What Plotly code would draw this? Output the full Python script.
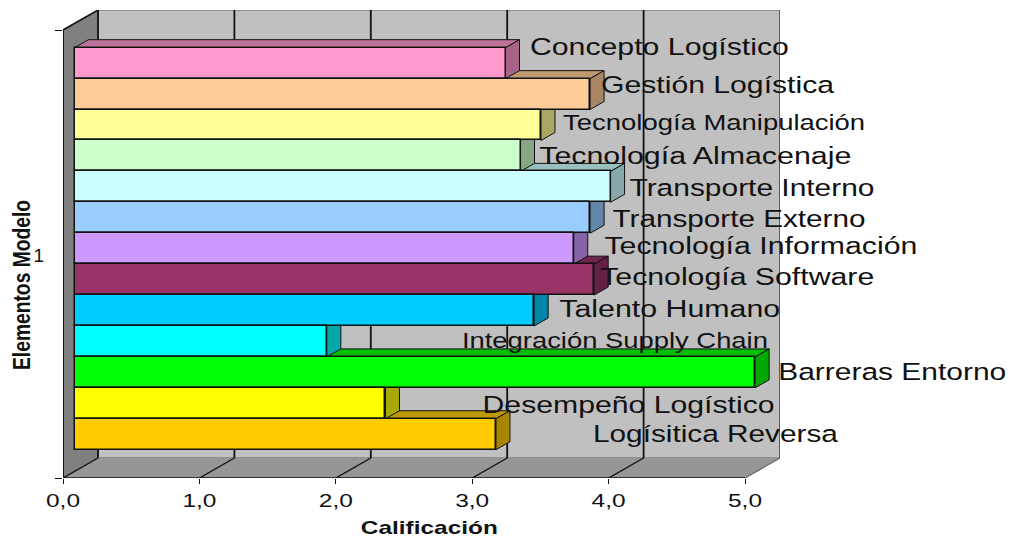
import json
import plotly.graph_objects as go

# --- data ---
categories = ["Concepto Logístico", "Gestión Logística", "Tecnología Manipulación",
              "Tecnología Almacenaje", "Transporte Interno", "Transporte Externo",
              "Tecnología Información", "Tecnología Software", "Talento Humano",
              "Integración Supply Chain", "Barreras Entorno", "Desempeño Logístico",
              "Logísitica Reversa"]
values = [3.16, 3.78, 3.42, 3.27, 3.93, 3.78, 3.66, 3.81, 3.37, 1.85, 4.99, 2.28, 3.09]
front_colors = ["#FF99CC", "#FFCC99", "#FFFF99", "#CCFFCC", "#CCFFFF", "#99CCFF", "#CC99FF",
                "#993366", "#00CCFF", "#00FFFF", "#00FF00", "#FFFF00", "#FFCC00"]
x_ticks = [0, 1, 2, 3, 4, 5]
x_tick_labels = ["0,0", "1,0", "2,0", "3,0", "4,0", "5,0"]
x_title = "Calificación"
y_title = "Elementos Modelo"

# --- layout constants (pixels in the 1010x539 page) ---
PX_LEFT, PX_RIGHT, PX_TOP, PX_BOTTOM = 63, 780, 10, 478
PX_PER_UNIT = 136.4
PX_BARS_TOP, PX_PER_SLOT = 47.7, 30.92
WALL_DX, WALL_DY = 35, 20
BAR_X0, BAR_DX, BAR_DY = 74.5, 14, 8
# left, right, vertical centre, font size of each bar label
label_boxes = [(530, 789, 47, 23.7), (601, 834, 85, 23.7), (563, 865, 122, 22), (539, 851, 156, 23),
               (629, 874, 188, 23.7), (612, 865, 219, 23), (604, 917, 246, 23), (600, 874, 277, 23),
               (559, 780, 309, 23), (462, 768, 341, 22), (778, 1006, 372, 23.7), (482, 774, 405, 23.7),
               (593, 838, 434, 23.7)]
FONT = "Liberation Sans"
INK = "#111111"


def X(px):
    return (px - PX_LEFT) / PX_PER_UNIT


def Y(py):
    return (py - PX_BARS_TOP) / PX_PER_SLOT


def PAPER_X(px):
    return (px - PX_LEFT) / (PX_RIGHT - PX_LEFT)


def PAPER_Y(py):
    return (PX_BOTTOM - py) / (PX_BOTTOM - PX_TOP)


def shade(hex_color, k):
    r, g, b = (int(hex_color[i:i + 2], 16) for i in (1, 3, 5))
    return f"rgb({int(r * k)},{int(g * k)},{int(b * k)})"


x_range = [0, X(PX_RIGHT)]
y_range = [Y(PX_BOTTOM), Y(PX_TOP)]
dx, dy = BAR_DX / PX_PER_UNIT, BAR_DY / PX_PER_SLOT
base = X(BAR_X0)

fig = go.Figure()


def poly(points, fill, color="rgba(0,0,0,0)", width=0):
    path = "M " + " L ".join(f"{X(a)},{Y(b)}" for a, b in points) + " Z"
    fig.add_shape(type="path", path=path, xref="x", yref="y", fillcolor=fill, layer="below",
                  line=dict(color=color, width=width))


def seg(a, b, color=INK, width=1.6):
    fig.add_shape(type="line", x0=X(a[0]), y0=Y(a[1]), x1=X(b[0]), y1=Y(b[1]), xref="x", yref="y",
                  layer="below", line=dict(color=color, width=width))


# walls and floor
back_l, back_r = PX_LEFT + WALL_DX, PX_RIGHT
floor_back = PX_BOTTOM - WALL_DY
poly([(back_l, PX_TOP), (back_r, PX_TOP), (back_r, floor_back), (back_l, floor_back)], "#C0C0C0",
     "#808080", 1.5)
poly([(PX_LEFT, PX_BOTTOM), (back_r - WALL_DX, PX_BOTTOM), (back_r, floor_back), (back_l, floor_back)], "#969696")
poly([(PX_LEFT, PX_TOP + WALL_DY), (back_l, PX_TOP), (back_l, floor_back), (PX_LEFT, PX_BOTTOM)], "#808080")

# grid lines over wall and floor
for t in x_ticks:
    fx = PX_LEFT + t * PX_PER_UNIT
    col = INK if t < 5 else "#707070"
    seg((fx, PX_BOTTOM), (fx + WALL_DX, floor_back), col, 1.4)
    seg((fx + WALL_DX, floor_back), (fx + WALL_DX, PX_TOP), col if t < 5 else "#555555", 1.8)
seg((PX_LEFT, PX_BOTTOM), (PX_LEFT + 5 * PX_PER_UNIT, PX_BOTTOM), INK, 1.4)
seg((PX_LEFT, PX_TOP + WALL_DY), (PX_LEFT, PX_BOTTOM), INK, 2)
seg((PX_LEFT, PX_TOP + WALL_DY), (back_l, PX_TOP), INK, 1.6)

# top and side faces of the bars, lowest first
n = len(values)
for i in range(n - 1, -1, -1):
    v1 = base + values[i]
    fig.add_trace(go.Scatter(x=[base, v1, v1 + dx, base + dx, base], y=[i, i, i - dy, i - dy, i], mode="lines",
                             fill="toself", fillcolor=shade(front_colors[i], 0.75), line=dict(color=INK, width=1),
                             showlegend=False, hoverinfo="skip"))
    fig.add_trace(go.Scatter(x=[v1, v1 + dx, v1 + dx, v1, v1], y=[i, i - dy, i + 1 - dy, i + 1, i], mode="lines",
                             fill="toself", fillcolor=shade(front_colors[i], 0.66), line=dict(color=INK, width=1),
                             showlegend=False, hoverinfo="skip"))

# front faces, on an overlaying axis pair so they cover faces of the bars below
fig.add_trace(go.Bar(orientation="h", x=values, y=[i + 0.5 for i in range(n)], base=base, width=1,
                     marker=dict(color=front_colors, line=dict(color=INK, width=1.5)),
                     xaxis="x2", yaxis="y2", showlegend=False, hovertext=categories, hoverinfo="text+x"))

text_widths = {}
for name, (left, right, cy, size) in zip(categories, label_boxes):
    text_widths[name] = right - left
    fig.add_annotation(x=PAPER_X((left + right) / 2), y=PAPER_Y(cy), xref="paper", yref="paper", text=name,
                       showarrow=False, font=dict(family=FONT, size=size, color=INK),
                       xanchor="center", yanchor="middle")

fig.add_annotation(x=PAPER_X(429.5), y=PAPER_Y(527), xref="paper", yref="paper", text=f"<b>{x_title}</b>",
                   showarrow=False, font=dict(family=FONT, size=19, color=INK), xanchor="center", yanchor="middle")
text_widths[x_title] = 137
fig.add_annotation(x=PAPER_X(21), y=PAPER_Y(285), xref="paper", yref="paper", text=f"<b>{y_title}</b>", textangle=-90,
                   showarrow=False, font=dict(family=FONT, size=24, color=INK), xanchor="center", yanchor="middle")
text_widths[y_title] = 170
for lab in x_tick_labels:
    text_widths[lab] = 34

fig.update_layout(
    width=1010, height=539, autosize=False,
    margin=dict(l=PX_LEFT, r=1010 - PX_RIGHT, t=PX_TOP, b=539 - PX_BOTTOM, pad=0, autoexpand=False),
    paper_bgcolor="white", plot_bgcolor="rgba(0,0,0,0)", bargap=0, showlegend=False,
    xaxis=dict(range=x_range, tickmode="array", tickvals=x_ticks, ticktext=x_tick_labels, automargin=False,
               ticks="outside", ticklen=5, tickcolor=INK, tickwidth=1, showgrid=False, zeroline=False,
               showline=False, tickfont=dict(family=FONT, size=19, color=INK)),
    yaxis=dict(range=y_range, tickmode="array", tickvals=[Y(PX_TOP + WALL_DY), Y(PX_BOTTOM)], ticktext=["", ""],
               ticks="outside", ticklen=7, tickcolor=INK, tickwidth=1, showgrid=False, zeroline=False,
               showline=False, automargin=False),
    xaxis2=dict(range=x_range, overlaying="x", visible=False),
    yaxis2=dict(range=y_range, overlaying="y", side="left", tickmode="array", tickvals=[Y(255)], automargin=False,
                ticktext=["1"], ticks="", showgrid=False, zeroline=False, showline=False,
                ticklabelstandoff=18, tickfont=dict(family=FONT, size=19, color=INK)),
)

# the reference image is stretched sideways: fit each text to the width it has there
FIT = r"""
document.body.style.margin='0';
(function(){
  var widths=__W__;
  function fit(){
    document.querySelectorAll('text.annotation-text, g.xtick text').forEach(function(t){
      var w=widths[t.textContent]; if(!w)return;
      t.setAttribute('textLength',w); t.setAttribute('lengthAdjust','spacingAndGlyphs');
    });
  }
  fit(); setTimeout(fit,30); setTimeout(fit,200);
})();
""".replace("__W__", json.dumps(text_widths, ensure_ascii=False))
fig.write_html("out.html", config=dict(displayModeBar=False), post_script=FIT)
